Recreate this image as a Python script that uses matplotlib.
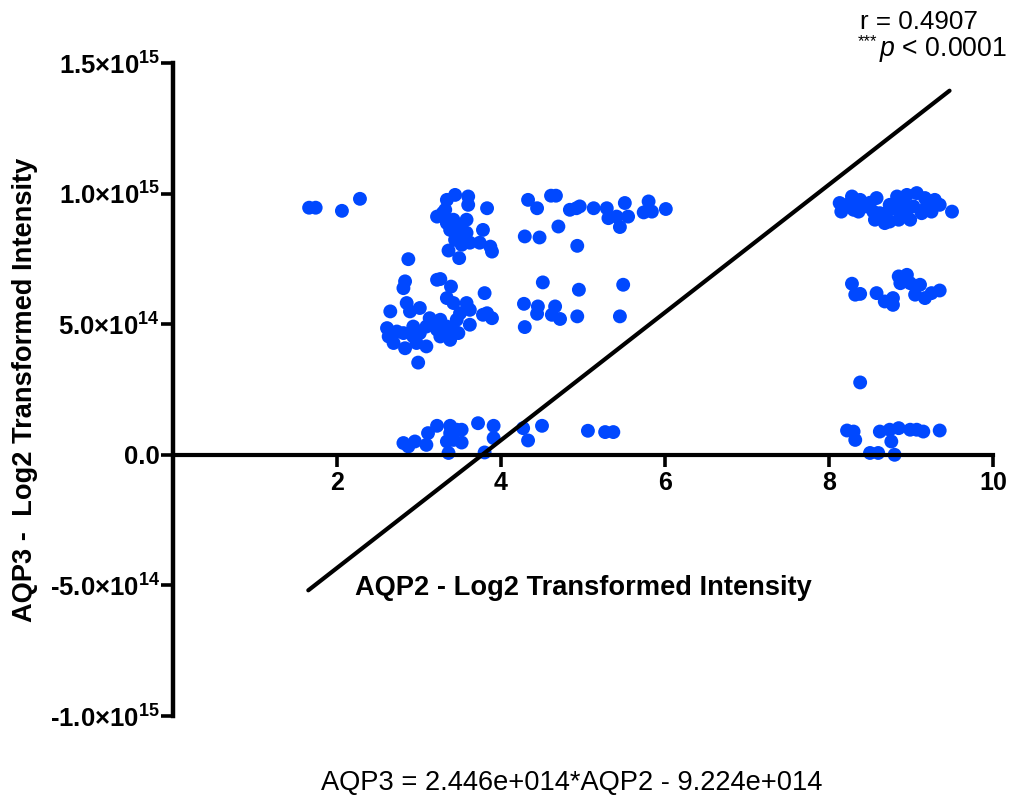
import matplotlib
matplotlib.use('Agg')
import matplotlib.pyplot as plt
import numpy as np

plt.rcParams['font.family'] = ['Liberation Sans', 'DejaVu Sans']
plt.rcParams['mathtext.fontset'] = 'custom'
plt.rcParams['mathtext.rm'] = 'Liberation Sans'
plt.rcParams['mathtext.it'] = 'Liberation Sans:italic'
plt.rcParams['mathtext.bf'] = 'Liberation Sans:bold'

# AQP2 (log2 intensity) and AQP3 (x 1e14) per cluster
low_x_top = [1.66, 1.74, 2.06, 2.28]
low_y_top = [9.46, 9.46, 9.34, 9.80]

c3_top_x = [3.34, 3.44, 3.60, 3.60, 3.22, 3.32, 3.83, 3.34, 3.42, 3.58, 3.38, 3.50,
            3.58, 3.78, 3.44, 3.52, 3.62, 3.74, 3.87, 3.89, 3.36, 3.49, 3.29, 3.48]
c3_top_y = [9.76, 9.95, 9.89, 9.57, 9.12, 9.38, 9.44, 8.87, 9.00, 9.00, 8.61, 8.50,
            8.50, 8.61, 8.23, 8.04, 8.12, 8.12, 7.97, 7.78, 7.82, 7.53, 9.26, 8.74]

c5_top_x = [4.33, 4.44, 4.61, 4.67, 4.29, 4.47, 4.70, 4.93, 4.84, 4.92, 4.96, 5.13,
            5.29, 5.31, 5.41, 5.45, 5.51, 5.55, 5.74, 5.80, 5.84, 6.01]
c5_top_y = [9.76, 9.44, 9.92, 9.92, 8.36, 8.32, 8.74, 8.00, 9.38, 9.44, 9.51, 9.44,
            9.44, 9.06, 9.12, 8.72, 9.64, 9.12, 9.28, 9.70, 9.31, 9.41]

c5_mid_x = [3.80, 3.83, 3.89, 4.51, 4.95, 5.49, 4.28, 4.45, 4.44, 4.66, 4.62, 4.72,
            4.93, 5.45, 4.29]
c5_mid_y = [6.19, 5.42, 5.23, 6.60, 6.32, 6.51, 5.78, 5.68, 5.40, 5.68, 5.36, 5.20,
            5.30, 5.30, 4.89]

c3_mid_x = [2.87, 2.83, 2.81, 3.22, 3.26, 3.39, 2.65, 2.85, 3.01, 2.89, 3.34, 3.42,
            3.58, 3.62, 3.78, 3.13, 3.26, 3.46, 2.61, 2.63, 2.69, 2.81, 2.93, 2.93,
            3.01, 3.09, 3.22, 3.30, 3.42, 3.62, 2.83, 2.97, 3.09, 3.26, 3.38, 3.48,
            2.99, 2.73, 3.17, 3.34, 3.50]
c3_mid_y = [7.49, 6.64, 6.38, 6.70, 6.73, 6.44, 5.49, 5.81, 5.62, 5.49, 6.00, 5.81,
            5.81, 5.55, 5.36, 5.23, 5.17, 5.17, 4.85, 4.53, 4.28, 4.66, 4.91, 4.53,
            4.66, 4.91, 4.79, 4.66, 4.79, 4.98, 4.08, 4.28, 4.15, 4.53, 4.40, 4.66,
            3.53, 4.72, 5.04, 4.91, 5.42]

low_bot_x = [2.81, 2.87, 2.95, 3.09, 3.11, 3.22, 3.38, 3.46, 3.52, 3.34, 3.42, 3.52,
             3.38, 3.36, 3.72, 3.91, 3.91, 3.80, 4.27, 4.33, 4.50, 5.06, 5.27, 5.37]
low_bot_y = [0.45, 0.32, 0.51, 0.38, 0.83, 1.11, 1.11, 0.96, 0.96, 0.51, 0.57, 0.47,
             0.83, 0.07, 1.21, 1.11, 0.64, 0.09, 1.02, 0.55, 1.11, 0.92, 0.87, 0.87]

c9_top_x = [8.13, 8.15, 8.28, 8.30, 8.42, 8.58, 8.54, 8.56, 8.68, 8.70, 8.83, 8.80,
            8.85, 8.95, 9.07, 8.95, 9.03, 9.17, 9.13, 9.25, 9.35, 9.50, 8.74, 8.62,
            8.46, 8.91, 9.19, 8.22, 8.36, 8.99, 8.38, 8.74, 9.29, 8.50, 8.93]
c9_top_y = [9.64, 9.31, 9.89, 9.38, 9.57, 9.83, 9.31, 9.00, 8.87, 9.25, 9.89, 9.44,
            9.00, 9.95, 10.02, 9.12, 9.51, 9.83, 9.25, 9.31, 9.57, 9.31, 8.93, 9.25,
            9.51, 9.64, 9.51, 9.57, 9.31, 9.00, 9.76, 9.57, 9.76, 9.65, 9.38]

c9_mid_x = [8.28, 8.32, 8.38, 8.58, 8.68, 8.78, 8.78, 8.85, 8.95, 8.87, 8.99, 9.11,
            9.05, 9.17, 9.25, 9.35, 8.91]
c9_mid_y = [6.55, 6.13, 6.16, 6.19, 5.87, 6.00, 5.74, 6.83, 6.89, 6.57, 6.57, 6.51,
            6.13, 6.00, 6.19, 6.29, 6.70]

c9_bot_x = [8.38, 8.22, 8.30, 8.32, 8.50, 8.60, 8.62, 8.74, 8.76, 8.85, 8.99, 9.07,
            9.15, 9.35, 8.80]
c9_bot_y = [2.77, 0.93, 0.89, 0.57, 0.07, 0.07, 0.89, 0.96, 0.51, 1.02, 0.96, 0.96,
            0.89, 0.93, 0.00]

slope = 2.446e14
intercept = -9.224e14
r_value = 0.4907

x_ticks = [2, 4, 6, 8, 10]
y_ticks = [-1e15, -5e14, 0, 5e14, 1e15, 1.5e15]
y_tick_labels = [r'-1.0×10$^{\mathbf{15}}$', r'-5.0×10$^{\mathbf{14}}$', '0.0',
                 r'5.0×10$^{\mathbf{14}}$', r'1.0×10$^{\mathbf{15}}$', r'1.5×10$^{\mathbf{15}}$']

aqp2 = np.array(low_x_top + c3_top_x + c5_top_x + c5_mid_x + c3_mid_x + low_bot_x
                + c9_top_x + c9_mid_x + c9_bot_x)
aqp3 = np.array(low_y_top + c3_top_y + c5_top_y + c5_mid_y + c3_mid_y + low_bot_y
                + c9_top_y + c9_mid_y + c9_bot_y) * 1e14

fig = plt.figure(figsize=(10.24, 8.05), dpi=100)
ax = fig.add_axes([173 / 1024, 1 - 716 / 805, 820 / 1024, 653 / 805])

ax.scatter(aqp2, aqp3, s=100, color='#0048ff', edgecolors='none', zorder=2, clip_on=False)

line_x = np.array([aqp2.min() - 0.01, aqp2.max() - 0.03])
ax.plot(line_x, slope * line_x + intercept, color='black', lw=3, zorder=3,
        solid_capstyle='round')

ax.set_xlim(0, 10)
ax.set_ylim(-1e15, 1.5e15)
ax.spines['top'].set_visible(False)
ax.spines['right'].set_visible(False)
ax.spines['bottom'].set_position(('data', 0))
ax.spines['bottom'].set_linewidth(3)
ax.spines['left'].set_linewidth(3.2)
ax.tick_params(axis='both', direction='out', width=2.6, length=8.5)
ax.tick_params(axis='y', pad=1)
ax.tick_params(axis='x', pad=3)

ax.set_xticks(x_ticks)
ax.set_xticklabels([str(t) for t in x_ticks], fontsize=18, fontweight='bold')
ax.set_yticks(y_ticks)
ax.set_yticklabels(y_tick_labels, fontsize=18.5, fontweight='bold')

fig.text(583 / 1024, 1 - 588 / 805, 'AQP2 - Log2 Transformed Intensity',
         fontsize=19.6, fontweight='bold', ha='center', va='center')
fig.text(25 / 1024, 1 - 390 / 805, 'AQP3 -  Log2 Transformed Intensity',
         fontsize=19.6, fontweight='bold', rotation=90, ha='center', va='center')

fig.text(860 / 1024, 1 - 29 / 805, f'r = {r_value:.4f}', fontsize=18.7,
         ha='left', va='baseline')
fig.text(858 / 1024, 1 - 46 / 805, '***', fontsize=12, ha='left', va='baseline')
fig.text(879 / 1024, 1 - 56 / 805, r'$\mathit{p}$ < 0.0001', fontsize=19.2,
         ha='left', va='baseline')

eq = f'AQP3 = {slope / 1e14:.3f}e+014*AQP2 - {-intercept / 1e14:.3f}e+014'
fig.text(572 / 1024, 1 - 783 / 805, eq, fontsize=19.6, ha='center', va='center')

fig.savefig('out.png', dpi=100)
